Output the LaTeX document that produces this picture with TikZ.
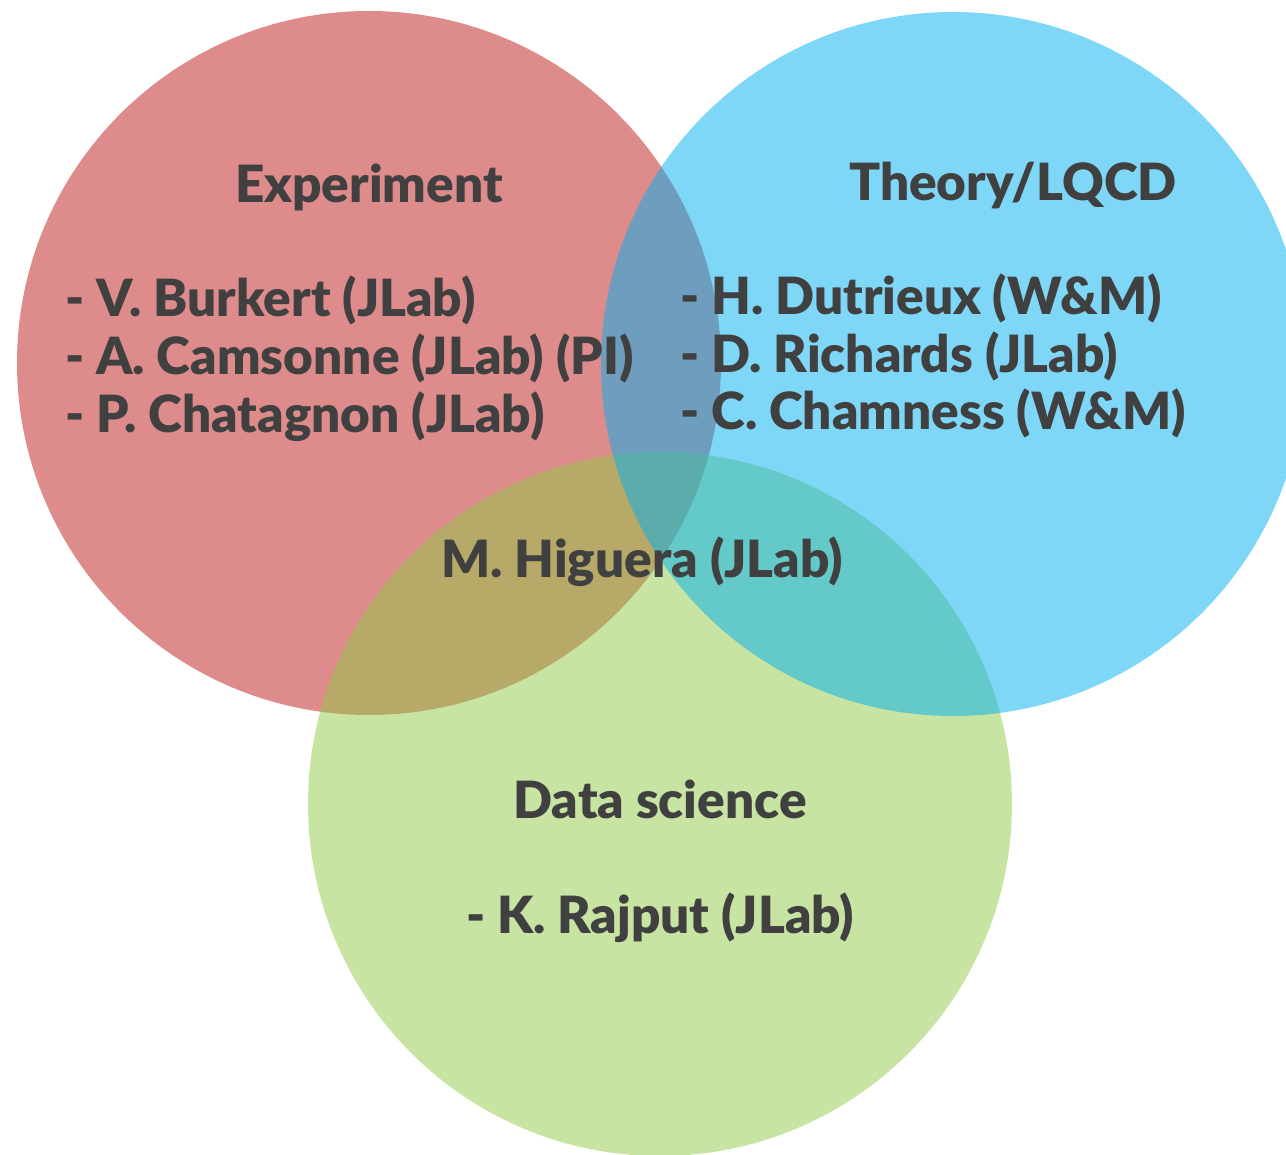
\documentclass[tikz,border=0pt]{standalone}
\usepackage{fontspec}
\setmainfont{Lato}[BoldFont={Lato Black}]
\usetikzlibrary{positioning}

\definecolor{expred}{RGB}{190,24,26}
\definecolor{theoblue}{RGB}{0,176,240}
\definecolor{datagreen}{RGB}{145,201,71}
\definecolor{txtgray}{RGB}{64,64,64}

\begin{document}
\begin{tikzpicture}
%Venn diagram of the team
	[
	 	 %Styles
       x=0.02cm, y=-0.02cm,
       set_circle/.style={fill opacity=0.5},
		 head_text/.style={inner sep=0pt,text=txtgray,font=\fontsize{29.2}{33}\selectfont\bfseries},
		 name_text/.style={inner sep=0pt,anchor=base west,text=txtgray,font=\fontsize{29.2}{33}\selectfont\bfseries}
    ]
    \useasboundingbox (0,0) rectangle (1286,1155);
    \clip (0,0) rectangle (1286,1155);

    %Sets
    \fill[set_circle,expred] (369,363) circle [radius=352];
    \fill[set_circle,datagreen] (660,804) circle [radius=352];
    \fill[set_circle,theoblue] (953,364) circle [radius=352];

    %Experiment
    \node (exp) [head_text,anchor=base] at (369,203) {Experiment};
    \node (burkert) [name_text] at (65,317) {- V. Burkert (JLab)};
    \node (camsonne) [name_text] at (65,375) {- A. Camsonne (JLab) (PI)};
    \node (chatagnon) [name_text] at (65,433) {- P. Chatagnon (JLab)};

    %Theory
    \node (theo) [head_text,anchor=base] at (1013,201) {Theory/LQCD};
    \node (dutrieux) [name_text] at (680,315) {- H. Dutrieux (W\&M)};
    \node (richards) [name_text] at (680,373) {- D. Richards (JLab)};
    \node (chamness) [name_text] at (680,430) {- C. Chamness (W\&M)};

    %Common
    \node (higuera) [head_text,anchor=base] at (642,578) {M. Higuera (JLab)};

    %Data science
    \node (data) [head_text,anchor=base] at (660,818) {Data science};
    \node (rajput) [head_text,anchor=base] at (660,933) {- K. Rajput (JLab)};
\end{tikzpicture}
\end{document}
